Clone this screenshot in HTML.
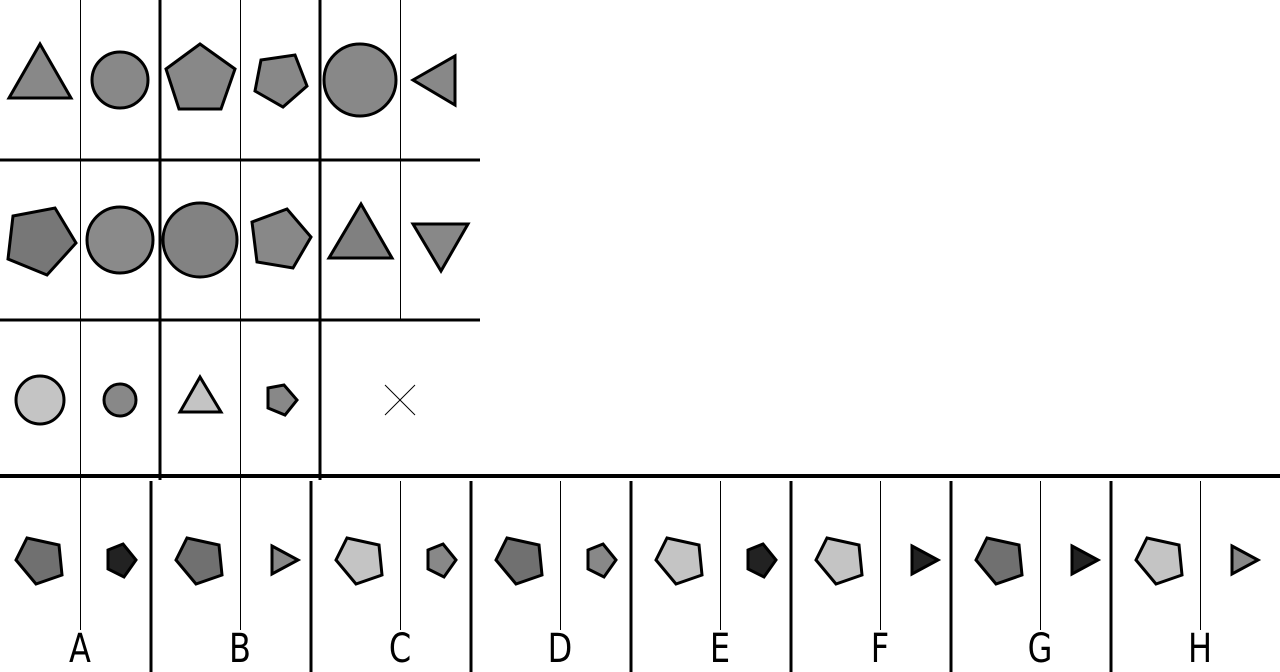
<!DOCTYPE html>
<html><head><meta charset="utf-8"><style>html,body{margin:0;padding:0;background:#fff}svg{display:block}</style></head>
<body>
<svg id="s" width="1280" height="672" xmlns="http://www.w3.org/2000/svg">
<g id="lines" stroke="#000">
<line x1="80.5" y1="0" x2="80.5" y2="630" stroke-width="1"/>
<line x1="240.5" y1="0" x2="240.5" y2="630" stroke-width="1"/>
<line x1="400.5" y1="0" x2="400.5" y2="320" stroke-width="1"/>
<line x1="160" y1="0" x2="160" y2="480" stroke-width="3"/>
<line x1="320" y1="0" x2="320" y2="480" stroke-width="3"/>
<line x1="0" y1="160" x2="480" y2="160" stroke-width="3"/>
<line x1="0" y1="320" x2="480" y2="320" stroke-width="3"/>
<line x1="0" y1="476" x2="1280" y2="476" stroke-width="4"/>
<line x1="385" y1="385" x2="415" y2="415" stroke-width="1"/>
<line x1="415" y1="385" x2="385" y2="415" stroke-width="1"/>
</g>
<g id="shapes" stroke="#000" stroke-width="3" stroke-linejoin="miter"></g>
<g id="answers" stroke="#000" stroke-width="3"></g>
</svg>
<script>
const NS='http://www.w3.org/2000/svg';
const gridPolys=[
 ['tri-r1c1','40,44 9,98 71,98','#888'],
 ['pent-r1c3','200,44 235,69 221,109 179,109 166,69','#888'],
 ['pent-r1c4','261,60 295,55 307,86 283,107 255,91','#888'],
 ['tri-r1c6','413,80 455,56 455,105','#888'],
 ['pent-r2c1','13,216 55,208 76,243 47,275 8,259','#777'],
 ['pent-r2c4','252,222 287,209 311,237 293,268 257,262','#888'],
 ['tri-r2c5','361,204 329,258 392,258','#808080'],
 ['tri-r2c6','413,224 468,224 441,271','#888'],
 ['tri-r3c3','200,377 180,412 221,412','#c4c4c4'],
 ['pent-r3c4','268,388 284,385 297,400 285,415 268,408','#888']
];
const gridCircles=[['circle-r1c2',120,80,28,'#888'],['circle-r1c5',360,80,36,'#888'],['circle-r2c2',120,240,33,'#8a8a8a'],['circle-r2c3',200,240,37,'#828282'],['circle-r3c1',40,400,24,'#c4c4c4'],['circle-r3c2',120,400,16,'#888']];
const sg=document.getElementById('shapes');
gridPolys.forEach(p=>{const e=document.createElementNS(NS,'polygon');e.setAttribute('points',p[1]);e.setAttribute('fill',p[2]);


sg.appendChild(e);});
gridCircles.forEach(c=>{const e=document.createElementNS(NS,'circle');e.setAttribute('cx',c[1]);e.setAttribute('cy',c[2]);e.setAttribute('r',c[3]);e.setAttribute('fill',c[4]);


sg.appendChild(e);});
const labels=['A','B','C','D','E','F','G','H'];
const bigFill=['#707070','#707070','#c4c4c4','#707070','#c4c4c4','#c4c4c4','#707070','#c4c4c4'];
const smallShape=['pent','tri','pent','pent','pent','tri','tri','tri'];
const smallFill=['#222','#888','#888','#888','#222','#222','#222','#888'];
const big=[[-53,-22],[-21,-15],[-18,15],[-44,24],[-64,0]];
const spent=[[43,-16],[56,0],[44,17],[28,9],[28,-10]];
const stri=[[32,-14],[58,0],[32,14]];
const ag=document.getElementById('answers');
labels.forEach((L,i)=>{
 const cx=80+160*i, cy=560;
 const g=document.createElementNS(NS,'g');
 
 
 if(i<7){const d=document.createElementNS(NS,'line');d.setAttribute('x1',cx+71);d.setAttribute('x2',cx+71);d.setAttribute('y1',481);d.setAttribute('y2',672);d.setAttribute('stroke-width',3);
 
 
 g.appendChild(d);}
 if(i>=2){const t=document.createElementNS(NS,'line');t.setAttribute('x1',cx+0.5);t.setAttribute('x2',cx+0.5);t.setAttribute('y1',481);t.setAttribute('y2',630);t.setAttribute('stroke-width',1);
 
 
 g.appendChild(t);}
 const b=document.createElementNS(NS,'polygon');b.setAttribute('points',big.map(p=>(cx+p[0])+','+(cy+p[1])).join(' '));b.setAttribute('fill',bigFill[i]);
 
 
 g.appendChild(b);
 const s=document.createElementNS(NS,'polygon');const pts=smallShape[i]==='pent'?spent:stri;
 s.setAttribute('points',pts.map(p=>(cx+p[0])+','+(cy+p[1])).join(' '));s.setAttribute('fill',smallFill[i]);
 
 
 g.appendChild(s);
 const tx=document.createElementNS(NS,'text');tx.setAttribute('x',0);tx.setAttribute('y',0);tx.setAttribute('text-anchor','middle');tx.setAttribute('font-family','DejaVu Sans, Liberation Sans, sans-serif');tx.setAttribute('font-size','40');tx.setAttribute('stroke','none');tx.setAttribute('fill','#000');
 tx.setAttribute('transform','translate('+cx+',662) scale(0.8,1)');tx.textContent=L;
 
 
 g.appendChild(tx);
 ag.appendChild(g);
});
</script>
</body></html>
